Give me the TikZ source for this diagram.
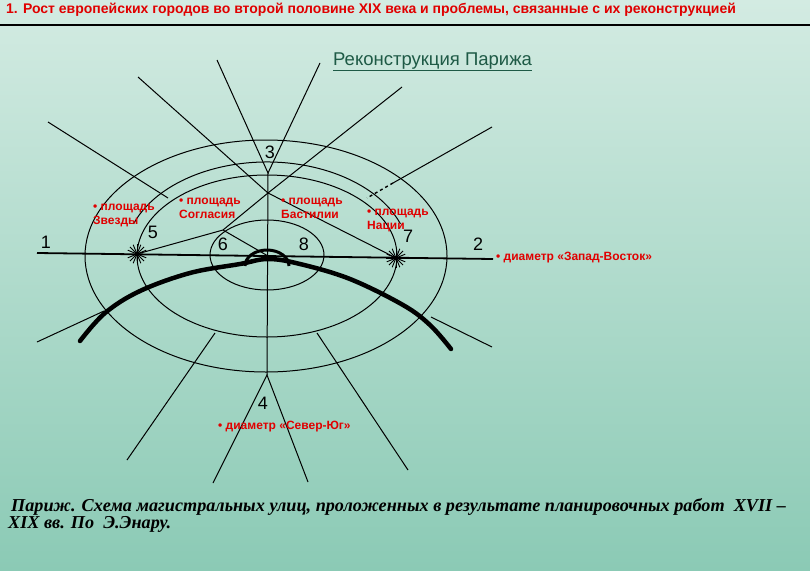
\documentclass[tikz,border=0pt]{standalone}
\usepackage{fontspec}
\setmainfont{Liberation Serif}
\setsansfont{Liberation Sans}
\definecolor{bgtop}{HTML}{D3EBE2}
\definecolor{bgbot}{HTML}{8BCAB5}
\definecolor{lblred}{HTML}{E00000}
\definecolor{ttlgreen}{HTML}{1E5A46}
\begin{document}
\begin{tikzpicture}[x=1pt,y=-1pt,
  road/.style={line width=1pt,black},
  seine/.style={line width=4.5pt,black,line cap=round},
  lbl/.style={text=lblred,font=\sffamily\bfseries\fontsize{12}{14}\selectfont,align=left,anchor=north west,inner sep=0pt},
  num/.style={font=\sffamily\fontsize{18}{18}\selectfont,inner sep=0pt}]
\shade[top color=bgtop,bottom color=bgbot] (0,0) rectangle (810,570);
\useasboundingbox (0,0) rectangle (810,570);
% title
\node[anchor=west,inner sep=0pt,text=lblred,font=\sffamily\bfseries\fontsize{14}{16}\selectfont] (ttl) at (6,10) {1. Рост европейских городов во второй половине XIX века и проблемы, связанные с их реконструкцией};
\draw[line width=2pt] (0,25) -- (810,25);
\node[anchor=west,inner sep=0pt,text=ttlgreen,font=\sffamily\fontsize{18.5}{20}\selectfont] (sub) at (333,62) {\underline{Реконструкция Парижа}};
% ellipses
\draw[road] (266,256) ellipse [x radius=181, y radius=116];
\draw[road] (267,256) ellipse [x radius=130, y radius=81];
\draw[road] (267,255) ellipse [x radius=57, y radius=35];
\draw[road] (267,256) ++(200:142 and 94) arc [start angle=200,end angle=340,x radius=142,y radius=94];
% small thick half ellipse
\draw[line width=3pt] (245,266) arc [start angle=180,end angle=360,x radius=22,y radius=16];
% axis
\coordinate (W) at (37,253); \coordinate (E) at (493,259);
\coordinate (etoile) at (137,254); \coordinate (nation) at (396,258);
\coordinate (C) at (268,256); \coordinate (N3) at (268,173); \coordinate (S4) at (267,375);
\coordinate (X) at (268,193); \coordinate (conc) at (223,230);
\draw[line width=1.8pt] (W) -- (E);
% radial roads
\draw[road] (48,122) -- (168,198);
\draw[road] (138,77) -- (X) -- (nation);
\draw[road] (402,87) -- (X) -- (conc) -- (etoile);
\draw[road] (conc) -- (C);
\draw[road] (217,60) -- (N3) -- (320,63);
\draw[road] (N3) -- (S4);
\draw[road] (492,127) -- (393,183);
\draw[road,dashed,line width=1.4pt] (393,183) -- (367,198);
\draw[road] (37,342) -- (104,311);
\draw[road] (492,347) -- (431,317);
\draw[road] (127,460) -- (215,333);
\draw[road] (408,470) -- (317,333);
\draw[road] (213,483) -- (S4) -- (308,482);
% stars
\foreach \p in {etoile,nation}{
  \foreach \a in {0,22.5,...,157.5}{
    \draw[line width=0.9pt] (\p) ++(\a:10) -- ++(\a+180:20);}}
% seine
\draw[seine] plot[smooth,tension=0.6] coordinates {(80,341) (105,313) (140,291) (190,273) (240,264) (268,259) (300,264) (350,279) (403,305) (430,325) (451,349)};
% numbers
\node[num] (n1) at (46,242) {1};
\node[num] (n2) at (478,244) {2};
\node[num] (n3) at (270,152) {3};
\node[num] (n4) at (263,403) {4};
\node[num] (n5) at (153,232) {5};
\node[num] (n6) at (223,244) {6};
\node[num] (n7) at (408,236) {7};
\node[num] (n8) at (304,244) {8};
% labels
\node[lbl] (l1) at (93,204) {• площадь\\Звезды};
\node[lbl] (l2) at (179,198) {• площадь\\Согласия};
\node[lbl] (l3) at (281,198) {• площадь\\Бастилии};
\node[lbl] (l4) at (367,209) {• площадь\\Нации};
\node[lbl] (l5) at (496,252) {• диаметр «Запад-Восток»};
\node[lbl] (l6) at (218,421) {• диаметр «Север-Юг»};
% caption
\node[anchor=north west,inner sep=0pt,align=left,font=\bfseries\itshape\fontsize{18.2}{17.5}\selectfont] (cap) at (8,498) {\,Париж. Схема магистральных улиц, проложенных в результате планировочных работ\ \ XVII –\\XIX вв. По\ \ Э.Энару.};
\end{tikzpicture}
\end{document}
